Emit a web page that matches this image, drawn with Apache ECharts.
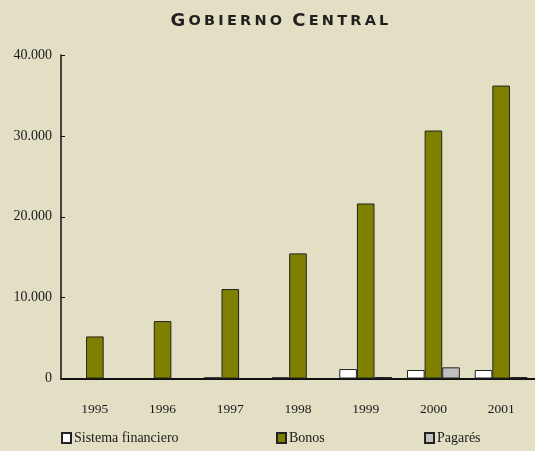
<!DOCTYPE html>
<html>
<head>
<meta charset="utf-8">
<script src="https://cdn.jsdelivr.net/npm/echarts@6/dist/echarts.min.js"></script>
<style>
  html, body { margin: 0; padding: 0; background: #e3dfc4; }
  #chart { width: 535px; height: 451px; }
</style>
</head>
<body>
<div id="chart"></div>
<script>
// Years on the category axis
var years = ['1995', '1996', '1997', '1998', '1999', '2000', '2001'];
// Outstanding debt by instrument
var sistemaFinanciero = [null, null, 150, 150, 1170, 1050, 1050];
var bonos = [5200, 7100, 11060, 15470, 21640, 30660, 36220];
var pagares = [null, null, null, null, 180, 1380, 180];
// Value-axis tick labels (0 to 40.000 in steps of 10.000)
var yTickLabels = ['0', '10.000', '20.000', '30.000', '40.000'];
var chartTitle = 'Gobierno Central';

var serif = '"Liberation Serif", "Times New Roman", serif';
var ink = '#1a1a1a';

// Small-caps title: initials in the large style, other letters in the small one,
// each letter spaced out a little.
function smallCaps(text) {
  return text.split(' ').map(function (word) {
    return word.split('').map(function (ch, i) {
      return '{' + (i === 0 ? 'a' : 'b') + '|' + ch.toUpperCase() + '}';
    }).join('');
  }).join('{s| }');
}

var capFont = { fontFamily: '"DejaVu Sans", sans-serif', fontWeight: 'bold', color: '#231f20' };

var chart = echarts.init(document.getElementById('chart'));

function legendFor(name, left) {
  return {
    data: [name],
    left: left,
    top: 431,
    icon: 'rect',
    itemWidth: 9,
    itemHeight: 10,
    itemGap: 0,
    padding: 0,
    textStyle: { fontFamily: serif, fontSize: 14, color: ink, padding: [0, 0, 0, -2] },
    selectedMode: false
  };
}

chart.setOption({
  backgroundColor: '#e3dfc4',
  animation: false,
  title: {
    text: smallCaps(chartTitle),
    left: 169,
    top: 12,
    padding: 0,
    textStyle: {
      rich: {
        a: Object.assign({ fontSize: 18, padding: [0, 1.6] }, capFont),
        b: Object.assign({ fontSize: 14.5, padding: [0, 1.6] }, capFont),
        s: Object.assign({ fontSize: 14.5, padding: [0, 1] }, capFont)
      }
    }
  },
  legend: [
    legendFor('Sistema financiero', 61),
    legendFor('Bonos', 276),
    legendFor('Pagarés', 424)
  ],
  grid: { left: 61, right: -6, top: 55, bottom: 72.5, containLabel: false },
  xAxis: {
    type: 'category',
    data: years,
    axisLine: { lineStyle: { color: '#111', width: 2 } },
    axisTick: { inside: true, length: 6, lineStyle: { color: '#111', width: 1.5 } },
    axisLabel: { fontFamily: serif, fontSize: 13.5, color: ink, margin: 24 }
  },
  yAxis: {
    type: 'value',
    min: 0,
    max: 40000,
    interval: 10000,
    axisLine: { show: true, lineStyle: { color: '#111', width: 1.5 } },
    axisTick: { show: true, inside: true, length: 4, lineStyle: { color: '#111' } },
    splitLine: { show: false },
    axisLabel: {
      fontFamily: serif, fontSize: 14, color: ink, margin: 9,
      formatter: function (v) { return yTickLabels[Math.round(v / 10000)]; }
    }
  },
  series: [
    {
      name: 'Sistema financiero', type: 'bar', data: sistemaFinanciero,
      barGap: '0%', barWidth: 17.6,
      itemStyle: { color: '#ffffff', borderColor: '#222', borderWidth: 1 }
    },
    {
      name: 'Bonos', type: 'bar', data: bonos, barWidth: 17.6,
      itemStyle: { color: '#808000', borderColor: '#222', borderWidth: 1 }
    },
    {
      name: 'Pagarés', type: 'bar', data: pagares, barWidth: 17.6,
      itemStyle: { color: '#c0c0c0', borderColor: '#222', borderWidth: 1 }
    }
  ]
});
</script>
</body>
</html>
